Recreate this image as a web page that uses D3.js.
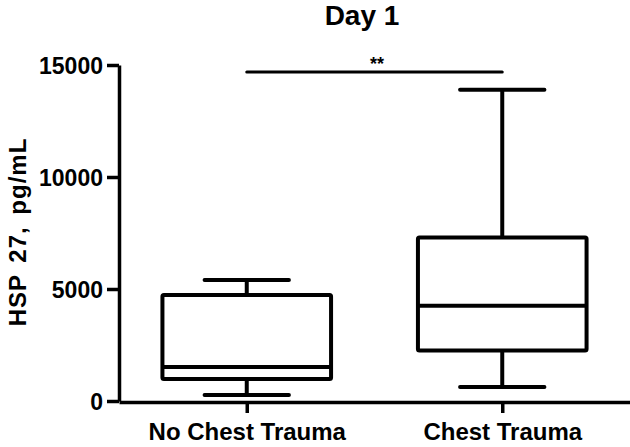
<!DOCTYPE html>
<html>
<head>
<meta charset="utf-8">
<script src="https://cdn.jsdelivr.net/npm/d3@7"></script>
<style>
  body { margin: 0; background: #fff; }
  svg { display: block; }
  text { font-family: "Liberation Sans", Arial, sans-serif; font-weight: bold; fill: #000; }
</style>
</head>
<body>
<svg id="chart" width="630" height="447"></svg>
<script>
// box plot summary values (pg/mL)
var groups = ["No Chest Trauma", "Chest Trauma"];
var whiskerLow = [270, 620];
var q1 = [980, 2250];
var median = [1520, 4250];
var q3 = [4730, 7300];
var whiskerHigh = [5400, 13900];
var yTicks = [0, 5000, 10000, 15000];

var svg = d3.select("#chart");

var x = d3.scalePoint().domain(groups).range([119, 630]).padding(0.5);
var y = d3.scaleLinear().domain([0, 15000]).range([401, 65]);

var boxW = x.step() * 0.66, capW = boxW * 0.5;

// y axis
var yAxis = svg.append("g")
    .attr("transform", "translate(119,0)")
    .call(d3.axisLeft(y).tickValues(yTicks).tickFormat(d3.format("d"))
        .tickSize(12).tickSizeOuter(0).tickPadding(4));
yAxis.select(".domain").attr("stroke-width", 3.5);
yAxis.selectAll(".tick line").attr("stroke-width", 3.5);
yAxis.selectAll(".tick text").style("font-size", "23px").attr("dy", "0.36em");

// x axis
var xAxis = svg.append("g")
    .attr("transform", "translate(0,402)")
    .call(d3.axisBottom(x).tickSize(11).tickSizeOuter(0).tickPadding(10));
xAxis.select(".domain").attr("stroke-width", 3.5);
xAxis.selectAll(".tick line").attr("stroke-width", 3.5);
xAxis.selectAll(".tick text").style("font-size", "24px").attr("dy", "0.71em");

// boxes
var data = groups.map(function (g, i) {
    return { name: g, lo: whiskerLow[i], q1: q1[i], med: median[i], q3: q3[i], hi: whiskerHigh[i] };
});

var box = svg.append("g").selectAll("g")
    .data(data)
    .enter().append("g")
    .attr("transform", function (d) { return "translate(" + x(d.name) + ",0)"; })
    .attr("stroke", "#000").attr("stroke-width", 4).attr("fill", "none");

box.append("line").attr("x1", 0).attr("x2", 0)
    .attr("y1", function (d) { return y(d.hi); }).attr("y2", function (d) { return y(d.q3); });
box.append("line").attr("x1", 0).attr("x2", 0)
    .attr("y1", function (d) { return y(d.q1); }).attr("y2", function (d) { return y(d.lo); });
box.append("line").attr("stroke-linecap", "round")
    .attr("x1", -capW / 2).attr("x2", capW / 2)
    .attr("y1", function (d) { return y(d.hi); }).attr("y2", function (d) { return y(d.hi); });
box.append("line").attr("stroke-linecap", "round")
    .attr("x1", -capW / 2).attr("x2", capW / 2)
    .attr("y1", function (d) { return y(d.lo); }).attr("y2", function (d) { return y(d.lo); });
box.append("rect")
    .attr("x", -boxW / 2).attr("width", boxW)
    .attr("y", function (d) { return y(d.q3); })
    .attr("height", function (d) { return y(d.q1) - y(d.q3); })
    .attr("rx", 1.5).attr("fill", "#fff");
box.append("line")
    .attr("x1", -boxW / 2).attr("x2", boxW / 2)
    .attr("y1", function (d) { return y(d.med); }).attr("y2", function (d) { return y(d.med); });

// significance bar
svg.append("line")
    .attr("x1", x(groups[0])).attr("x2", x(groups[1]))
    .attr("y1", 72).attr("y2", 72)
    .attr("stroke", "#000").attr("stroke-width", 3).attr("stroke-linecap", "round");
svg.append("text")
    .attr("x", 377).attr("y", 70)
    .attr("text-anchor", "middle")
    .style("font-size", "18px")
    .text("**");

// title
svg.append("text")
    .attr("x", 362).attr("y", 25)
    .attr("text-anchor", "middle")
    .style("font-size", "28px")
    .text("Day 1");

// y label
svg.append("text")
    .attr("transform", "translate(26,232) rotate(-90)")
    .attr("text-anchor", "middle")
    .style("font-size", "24px")
    .style("letter-spacing", "1px")
    .style("word-spacing", "4px")
    .text("HSP 27, pg/mL");
</script>
</body>
</html>
